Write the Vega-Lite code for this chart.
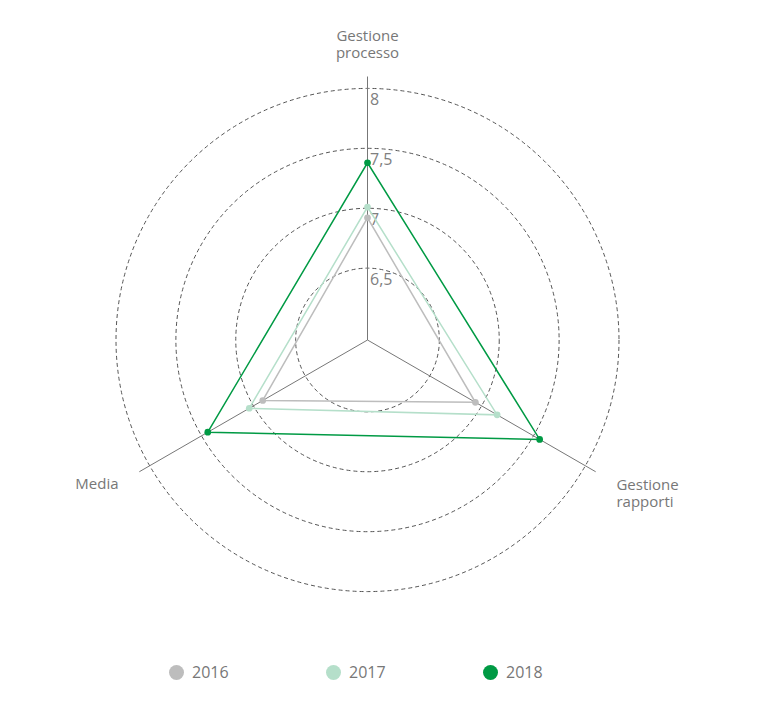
{
  "$schema": "https://vega.github.io/schema/vega-lite/v6.json",
  "width": 620,
  "height": 620,
  "autosize": "none",
  "padding": {"left": 57.5, "top": 30, "right": 87.5, "bottom": 53},
  "datasets": {
    "punteggi": [
      {"anno": "2016", "asse": "Gestione processo", "valore": 6.92},
      {"anno": "2016", "asse": "Gestione rapporti", "valore": 6.94},
      {"anno": "2016", "asse": "Media", "valore": 6.91},
      {"anno": "2017", "asse": "Gestione processo", "valore": 7.01},
      {"anno": "2017", "asse": "Gestione rapporti", "valore": 7.15},
      {"anno": "2017", "asse": "Media", "valore": 7.04},
      {"anno": "2018", "asse": "Gestione processo", "valore": 7.38},
      {"anno": "2018", "asse": "Gestione rapporti", "valore": 7.56},
      {"anno": "2018", "asse": "Media", "valore": 7.44}
    ],
    "anelli": [
      {"v": 6.5, "etichetta": "6,5"},
      {"v": 7, "etichetta": "7"},
      {"v": 7.5, "etichetta": "7,5"},
      {"v": 8, "etichetta": "8"}
    ],
    "assi": [
      {"asse": "Gestione processo"},
      {"asse": "Gestione rapporti"},
      {"asse": "Media"}
    ]
  },
  "layer": [
    {
      "data": {"name": "anelli"},
      "transform": [
        {"calculate": "datum.v - 5.9", "as": "r"},
        {"calculate": "0", "as": "o"}
      ],
      "mark": {"type": "point", "shape": "circle", "filled": false, "fill": "transparent", "stroke": "#555555", "strokeWidth": 1, "strokeDash": [4, 3], "opacity": 1},
      "encoding": {
        "x": {"field": "o", "type": "quantitative", "scale": {"domain": [-2.5885, 2.5885], "nice": false, "zero": false}, "axis": null},
        "y": {"field": "o", "type": "quantitative", "scale": {"domain": [-2.5885, 2.5885], "nice": false, "zero": false}, "axis": null},
        "size": {"field": "r", "type": "quantitative", "scale": {"type": "pow", "exponent": 2, "domain": [0, 2.5885], "range": [0, 384400], "zero": true}, "legend": null}
      }
    },
    {
      "data": {"name": "assi"},
      "transform": [
        {"calculate": "datum.asse === 'Gestione processo' ? PI/2 : datum.asse === 'Gestione rapporti' ? -PI/6 : 7*PI/6", "as": "a"},
        {"calculate": "0", "as": "o"},
        {"calculate": "2.2 * cos(datum.a)", "as": "ex"},
        {"calculate": "2.2 * sin(datum.a)", "as": "ey"}
      ],
      "mark": {"type": "rule", "color": "#777777", "strokeWidth": 1},
      "encoding": {
        "x": {"field": "o", "type": "quantitative", "axis": null},
        "y": {"field": "o", "type": "quantitative", "axis": null},
        "x2": {"field": "ex"},
        "y2": {"field": "ey"}
      }
    },
    {
      "data": {"name": "anelli"},
      "transform": [
        {"calculate": "datum.v - 5.9", "as": "r"},
        {"calculate": "0", "as": "o"}
      ],
      "mark": {"type": "text", "align": "left", "baseline": "top", "dx": 2.5, "dy": 3.5, "font": "Open Sans", "fontSize": 16, "color": "#808080"},
      "encoding": {
        "x": {"field": "o", "type": "quantitative", "axis": null},
        "y": {"field": "r", "type": "quantitative", "axis": null},
        "text": {"field": "etichetta", "type": "nominal"}
      }
    },
    {
      "data": {"name": "punteggi"},
      "transform": [
        {"calculate": "datum.asse === 'Gestione processo' ? PI/2 : datum.asse === 'Gestione rapporti' ? -PI/6 : 7*PI/6", "as": "a"},
        {"calculate": "(datum.valore - 5.9) * cos(datum.a)", "as": "px"},
        {"calculate": "(datum.valore - 5.9) * sin(datum.a)", "as": "py"}
      ],
      "mark": {"type": "line", "interpolate": "linear-closed", "strokeWidth": 1.5},
      "encoding": {
        "x": {"field": "px", "type": "quantitative", "axis": null},
        "y": {"field": "py", "type": "quantitative", "axis": null},
        "detail": {"field": "anno", "type": "nominal"},
        "stroke": {"field": "anno", "type": "nominal", "scale": {"range": ["#bdbdbd", "#b5dfca", "#009a44"]}, "legend": null}
      }
    },
    {
      "data": {"name": "punteggi"},
      "transform": [
        {"calculate": "datum.asse === 'Gestione processo' ? PI/2 : datum.asse === 'Gestione rapporti' ? -PI/6 : 7*PI/6", "as": "a"},
        {"calculate": "(datum.valore - 5.9) * cos(datum.a)", "as": "px"},
        {"calculate": "(datum.valore - 5.9) * sin(datum.a)", "as": "py"}
      ],
      "mark": {"type": "point", "shape": "circle", "filled": true, "opacity": 1, "size": 45},
      "encoding": {
        "x": {"field": "px", "type": "quantitative", "axis": null},
        "y": {"field": "py", "type": "quantitative", "axis": null},
        "color": {
          "field": "anno", "type": "nominal",
          "scale": {"domain": ["2016", "2017", "2018"], "range": ["#bdbdbd", "#b5dfca", "#009a44"]},
          "legend": {"title": null, "orient": "none", "direction": "horizontal", "legendX": 111, "legendY": 634.5}
        }
      }
    },
    {
      "data": {"name": "assi"},
      "transform": [
        {"filter": "datum.asse === 'Gestione processo'"},
        {"calculate": "2.4 * cos(PI/2)", "as": "lx"},
        {"calculate": "2.4 * sin(PI/2)", "as": "ly"}
      ],
      "mark": {"type": "text", "align": "center", "baseline": "alphabetic", "dy": -12, "lineBreak": " ", "lineHeight": 17, "font": "Open Sans", "fontSize": 15, "color": "#777777"},
      "encoding": {
        "x": {"field": "lx", "type": "quantitative", "axis": null},
        "y": {"field": "ly", "type": "quantitative", "axis": null},
        "text": {"field": "asse", "type": "nominal"}
      }
    },
    {
      "data": {"name": "assi"},
      "transform": [
        {"filter": "datum.asse === 'Gestione rapporti'"},
        {"calculate": "2.4 * cos(-PI/6)", "as": "lx"},
        {"calculate": "2.4 * sin(-PI/6)", "as": "ly"}
      ],
      "mark": {"type": "text", "align": "left", "baseline": "alphabetic", "dy": 6.5, "lineBreak": " ", "lineHeight": 17, "font": "Open Sans", "fontSize": 15, "color": "#777777"},
      "encoding": {
        "x": {"field": "lx", "type": "quantitative", "axis": null},
        "y": {"field": "ly", "type": "quantitative", "axis": null},
        "text": {"field": "asse", "type": "nominal"}
      }
    },
    {
      "data": {"name": "assi"},
      "transform": [
        {"filter": "datum.asse === 'Media'"},
        {"calculate": "2.4 * cos(7*PI/6)", "as": "lx"},
        {"calculate": "2.4 * sin(7*PI/6)", "as": "ly"}
      ],
      "mark": {"type": "text", "align": "right", "baseline": "alphabetic", "dy": 5.5, "font": "Open Sans", "fontSize": 15, "color": "#777777"},
      "encoding": {
        "x": {"field": "lx", "type": "quantitative", "axis": null},
        "y": {"field": "ly", "type": "quantitative", "axis": null},
        "text": {"field": "asse", "type": "nominal"}
      }
    }
  ],
  "config": {
    "view": {"stroke": null},
    "font": "Open Sans",
    "legend": {
      "symbolType": "circle", "symbolSize": 225, "symbolStrokeWidth": 0,
      "labelFont": "Open Sans", "labelFontSize": 16, "labelColor": "#777777",
      "labelOffset": 7.5, "columnPadding": 96, "padding": 0
    }
  }
}
